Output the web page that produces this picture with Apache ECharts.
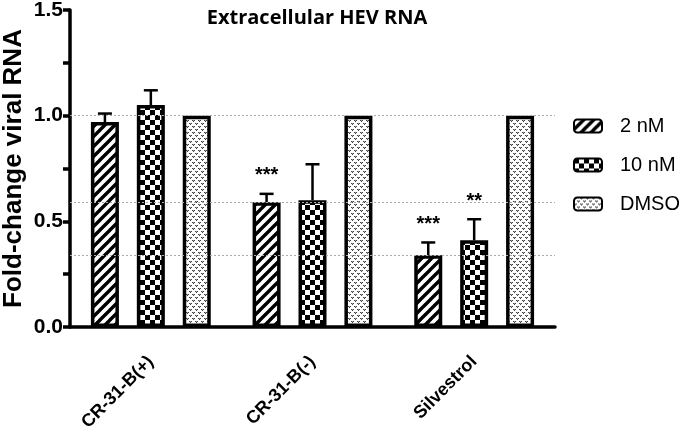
<!DOCTYPE html>
<html>
<head>
<meta charset="utf-8">
<script src="https://cdn.jsdelivr.net/npm/echarts@6/dist/echarts.min.js"></script>
<style>
  html, body { margin: 0; padding: 0; background: #fff; }
  #chart { width: 688px; height: 429px; }
</style>
</head>
<body>
<div id="chart"></div>
<script>
// ---- data ----
const categories = ['CR-31-B(+)', 'CR-31-B(-)', 'Silvestrol'];
const seriesNames = ['2 nM', '10 nM', 'DMSO'];
const mean2nM = [0.97, 0.59, 0.34];
const err2nM = [0.04, 0.04, 0.06];
const mean10nM = [1.05, 0.60, 0.41];
const err10nM = [0.07, 0.17, 0.10];
const meanDMSO = [1.0, 1.0, 1.0];
const errDMSO = [0, 0, 0];
const stars2nM = ['', '***', '***'];
const stars10nM = ['', '', '**'];
const starsDMSO = ['', '', ''];
const refLines = [1.0, 0.59, 0.34];
const yTicks = [0, 0.5, 1.0, 1.5];

// ---- patterns ----
function makeTile(size, draw) {
    const c = document.createElement('canvas');
    c.width = size; c.height = size;
    const ctx = c.getContext('2d');
    ctx.fillStyle = '#fff';
    ctx.fillRect(0, 0, size, size);
    draw(ctx, size);
    return c;
}
const hatchTile = makeTile(10, (ctx, s) => {
    ctx.strokeStyle = '#000';
    ctx.lineWidth = 3.4;
    ctx.beginPath();
    for (let k = -1; k <= 1; k++) {
        ctx.moveTo(k * s - 1, s + 1);
        ctx.lineTo(k * s + s + 1, -1);
    }
    ctx.stroke();
});
const checkTile = makeTile(10, (ctx) => {
    ctx.fillStyle = '#000';
    ctx.fillRect(0, 0, 5, 5);
    ctx.fillRect(5, 5, 5, 5);
});
// small "v" marks, dense and grey
const dotTile = makeTile(6, (ctx) => {
    ctx.fillStyle = '#444';
    ctx.fillRect(0, 0, 1, 1);
    ctx.fillRect(2, 0, 1, 1);
    ctx.fillRect(1, 1, 1, 1);
    ctx.fillRect(3, 3, 1, 1);
    ctx.fillRect(5, 3, 1, 1);
    ctx.fillRect(4, 4, 1, 1);
    ctx.fillStyle = '#999';
    ctx.fillRect(1, 0, 1, 1);
    ctx.fillRect(4, 3, 1, 1);
});
const patterns = [hatchTile, checkTile, dotTile];

const means = [mean2nM, mean10nM, meanDMSO];
const errs = [err2nM, err10nM, errDMSO];
const stars = [stars2nM, stars10nM, starsDMSO];

const barWidth = 28;
const barGapRatio = 0.64;

const barSeries = seriesNames.map((name, i) => ({
    name: name,
    type: 'bar',
    barWidth: barWidth,
    barGap: (barGapRatio * 100) + '%',
    data: means[i],
    z: 2,
    itemStyle: {
        color: { image: patterns[i], repeat: 'repeat' },
        borderColor: '#000',
        borderWidth: 3.5
    },
    markLine: i === 0 ? {
        silent: true,
        symbol: 'none',
        label: { show: false },
        lineStyle: { color: '#aaa', type: [2, 2], width: 1 },
        data: refLines.map(v => ({ yAxis: v }))
    } : undefined
}));

const errSeries = seriesNames.map((name, i) => ({
    name: name,
    type: 'custom',
    z: 3,
    data: means[i].map((m, j) => [j, m, errs[i][j]]),
    renderItem: function(params, api) {
        const cat = api.value(0);
        const m = api.value(1);
        const e = api.value(2);
        const s = stars[i][cat];
        const offset = (i - 1) * barWidth * (1 + barGapRatio);
        const base = api.coord([cat, m]);
        const top = api.coord([cat, m + e]);
        const x = base[0] + offset;
        const children = [];
        if (e > 0) {
            children.push({
                type: 'line',
                shape: { x1: x, y1: base[1], x2: x, y2: top[1] },
                style: { stroke: '#000', lineWidth: 2.5 }
            });
            children.push({
                type: 'line',
                shape: { x1: x - 7, y1: top[1], x2: x + 7, y2: top[1] },
                style: { stroke: '#000', lineWidth: 2.5 }
            });
        }
        if (s) {
            children.push({
                type: 'text',
                style: {
                    x: x, y: top[1] - 8,
                    text: s,
                    fill: '#000',
                    font: 'bold 20px "Liberation Sans", Arial, sans-serif',
                    align: 'center',
                    verticalAlign: 'bottom'
                }
            });
        }
        return { type: 'group', children: children };
    }
}));

const chart = echarts.init(document.getElementById('chart'));
chart.setOption({
    animation: false,
    title: {
        text: 'Extracellular HEV RNA',
        left: 312,
        textAlign: 'center',
        top: 3,
        textStyle: {
            fontFamily: '"Open Sans", sans-serif',
            fontWeight: 'bold',
            fontSize: 20,
            color: '#000'
        }
    },
    legend: {
        orient: 'vertical',
        left: 573,
        top: 116,
        padding: 0,
        itemWidth: 28,
        itemHeight: 13,
        itemGap: 19,
        data: seriesNames,
        textStyle: {
            fontFamily: '"Liberation Sans", Arial, sans-serif',
            fontSize: 20,
            color: '#000',
            padding: [0, 0, 0, 13]
        }
    },
    grid: { left: 70, right: 133, top: 10, bottom: 102, outerBoundsMode: 'none' },
    xAxis: {
        type: 'category',
        data: categories,
        axisLine: { lineStyle: { color: '#000', width: 3.5 } },
        axisTick: { alignWithLabel: true, length: 8, lineStyle: { color: '#000', width: 3.5 } },
        axisLabel: {
            rotate: 45,
            margin: 32,
            fontFamily: '"Liberation Sans", Arial, sans-serif',
            fontWeight: 'bold',
            fontSize: 18,
            color: '#000'
        }
    },
    yAxis: {
        type: 'value',
        min: yTicks[0],
        max: yTicks[yTicks.length - 1],
        interval: 0.5,
        name: 'Fold-change viral RNA',
        nameLocation: 'middle',
        nameGap: 43,
        nameMoveOverlap: false,
        nameTextStyle: {
            fontFamily: '"Liberation Sans", Arial, sans-serif',
            fontWeight: 'bold',
            fontSize: 26,
            color: '#000'
        },
        axisLine: { show: true, lineStyle: { color: '#000', width: 3.5 } },
        axisTick: { show: true, length: 7, lineStyle: { color: '#000', width: 3.5 } },
        minorTick: { show: true, splitNumber: 2, length: 7, lineStyle: { color: '#000', width: 3.5 } },
        splitLine: { show: false },
        axisLabel: {
            margin: 7,
            formatter: v => v.toFixed(1),
            fontFamily: '"Liberation Sans", Arial, sans-serif',
            fontWeight: 'bold',
            fontSize: 21,
            color: '#000'
        }
    },
    series: barSeries.concat(errSeries)
});
</script>
</body>
</html>
